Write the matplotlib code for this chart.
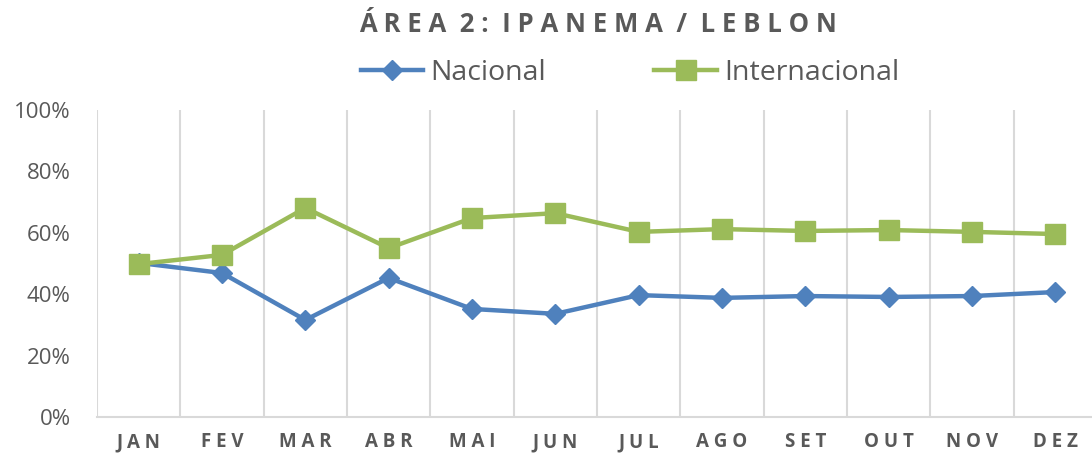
import matplotlib.pyplot as plt
import numpy as np

meses = ['JAN', 'FEV', 'MAR', 'ABR', 'MAI', 'JUN', 'JUL', 'AGO', 'SET', 'OUT', 'NOV', 'DEZ']
nacional = [50.2, 46.9, 31.6, 45.3, 35.2, 33.6, 39.7, 38.8, 39.4, 39.1, 39.4, 40.7]
internacional = [49.8, 52.8, 68.1, 55.0, 64.8, 66.4, 60.3, 61.2, 60.6, 60.9, 60.3, 59.6]
y_ticks = [0, 20, 40, 60, 80, 100]

azul = '#4F81BD'
verde = '#9BBB59'
cinza = '#595959'

plt.rcParams['font.family'] = ['Open Sans', 'DejaVu Sans']


def espacar(txt):
    # letter spacing like the Excel original
    return ' '.join(txt)


fig = plt.figure(figsize=(10.92, 4.55), dpi=100)
ax = fig.add_axes([97 / 1092, 1 - 417 / 455, 1 - 97 / 1092, (417 - 110) / 455])

x = np.arange(len(meses))
ax.plot(x, np.array(nacional) / 100, color=azul, lw=3.2, marker='D', ms=10,
        label='Nacional', solid_joinstyle='round')
ax.plot(x, np.array(internacional) / 100, color=verde, lw=3.2, marker='s', ms=14,
        label='Internacional', solid_joinstyle='round')

ax.set_xlim(-0.5, 11.44)
ax.set_ylim(0, 1)
ax.set_xticks(x)
ax.set_xticklabels([espacar(m) for m in meses], fontsize=13.5, fontweight='bold', color=cinza)
ax.set_xticks(np.arange(-0.5, 11.5, 1), minor=True)
ax.grid(which='minor', axis='x', color='#D9D9D9', lw=1.5)
ax.tick_params(axis='x', which='both', length=0, pad=11)
ax.set_yticks(np.array(y_ticks) / 100)
ax.set_yticklabels([f'{v}%' for v in y_ticks], fontsize=16, color=cinza)
ax.tick_params(axis='y', length=0, pad=19)
for s in ['top', 'right', 'left']:
    ax.spines[s].set_visible(False)
ax.spines['bottom'].set_color('#D9D9D9')
ax.spines['bottom'].set_linewidth(1.5)
ax.set_axisbelow(True)

fig.text(0.548, 1 - 25 / 455, 'Á R E A  2 :  I P A N E M A  /  L E B L O N',
         ha='center', va='center', fontsize=18.5, fontweight='bold', color=cinza)

fig.legend(loc='center', bbox_to_anchor=(0.577, 1 - 73 / 455), ncol=2, frameon=False,
           fontsize=20.5, handlelength=2.2, columnspacing=3.8, handletextpad=0.25,
           labelcolor=cinza)

fig.savefig('out.png', dpi=100)
